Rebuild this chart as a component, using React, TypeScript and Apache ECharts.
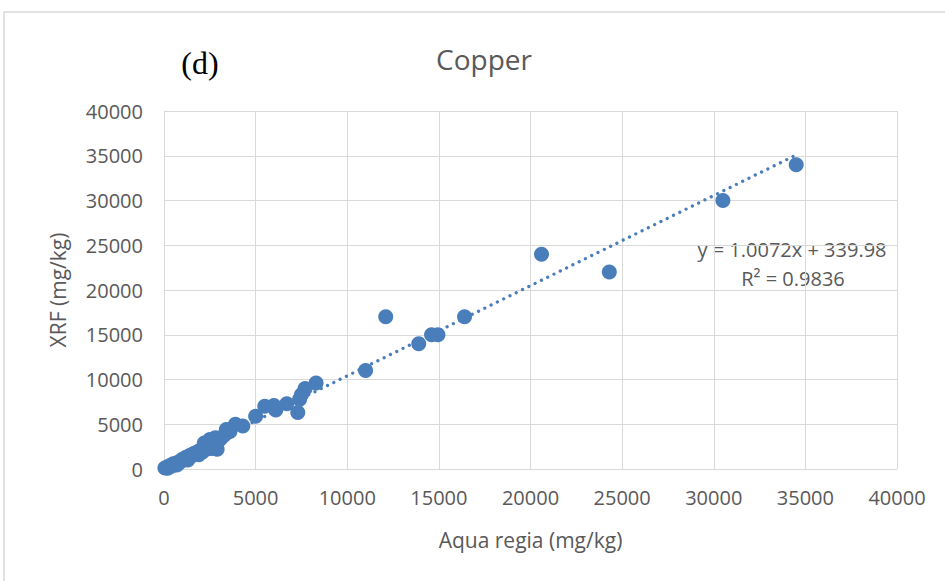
import React, { useEffect, useRef } from "react";
import * as echarts from "echarts";

// Data (Aqua regia mg/kg, XRF mg/kg)
const aquaRegia: number[] = [
  50, 150, 200, 300, 400, 500, 600, 700, 800, 900, 1000, 1100, 1200, 1300, 1400, 1500,
  1600, 1700, 1800, 1900, 2000, 2100, 2200, 2300, 2400, 2500, 2600, 2700, 2800, 2900,
  3000, 3100, 3300, 3400, 3600, 3900, 4300, 5000, 5500, 6000, 6100, 6700, 7300, 7400,
  7500, 7700, 8300, 11000, 12100, 13900, 14600, 14950, 16400, 20600, 24300, 30500, 34500,
  1900, 2200, 1300, 2600, 700,
];
const xrf: number[] = [
  100, 200, 80, 350, 300, 600, 500, 700, 650, 900, 1100, 1000, 1300, 1200, 1500, 1450,
  1700, 1800, 1700, 2000, 2100, 1900, 2400, 2200, 2600, 3300, 2800, 3000, 3500, 2200,
  3200, 3400, 3800, 4400, 4200, 5000, 4800, 5900, 7000, 7100, 6600, 7300, 6300, 7800,
  8300, 9000, 9600, 11000, 17000, 14000, 15000, 15000, 17000, 24000, 22000, 30000, 34000,
  1600, 2900, 1000, 2300, 450,
];

// Linear trendline shown in the reference
const trendSlope = 1.0072;
const trendIntercept = 339.98;
const trendRange: number[] = [0, 34400];

const xTicks = { min: 0, max: 40000, interval: 5000 };
const yTicks = { min: 0, max: 40000, interval: 5000 };

const TEXT = "#595959";
const GRID = "#d9d9d9";
const BLUE = "#4a7ebb";
const FONT = "'Open Sans', 'Liberation Sans', sans-serif";

export default function App() {
  const ref = useRef<HTMLDivElement>(null);

  useEffect(() => {
    document.body.style.margin = "0";
    if (!ref.current) return;
    const chart = echarts.init(ref.current, undefined, { renderer: "svg" });
    const points = aquaRegia.map((x, i) => [x, xrf[i]]);
    const trend = trendRange.map((x) => [x, trendSlope * x + trendIntercept]);
    const plain = (v: number) => String(v);

    chart.setOption({
      animation: false,
      backgroundColor: "#ffffff",
      grid: { left: 164, right: 48, top: 111, bottom: 112, containLabel: false },
      xAxis: {
        type: "value",
        min: xTicks.min,
        max: xTicks.max,
        interval: xTicks.interval,
        name: "Aqua regia (mg/kg)",
        nameLocation: "middle",
        nameGap: 60,
        nameTextStyle: { color: TEXT, fontSize: 21, fontFamily: FONT },
        axisLine: { show: true, lineStyle: { color: GRID, width: 1 } },
        axisTick: { show: false },
        axisLabel: { color: TEXT, fontSize: 20, fontFamily: FONT, margin: 18, formatter: plain },
        splitLine: { show: true, lineStyle: { color: GRID, width: 1 } },
      },
      yAxis: {
        type: "value",
        min: yTicks.min,
        max: yTicks.max,
        interval: yTicks.interval,
        name: "XRF (mg/kg)",
        nameLocation: "middle",
        nameGap: 96,
        nameTextStyle: { color: TEXT, fontSize: 21, fontFamily: FONT },
        axisLine: { show: true, lineStyle: { color: GRID, width: 1 } },
        axisTick: { show: false },
        axisLabel: { color: TEXT, fontSize: 20, fontFamily: FONT, margin: 21, formatter: plain },
        splitLine: { show: true, lineStyle: { color: GRID, width: 1 } },
      },
      series: [
        {
          type: "scatter",
          data: points,
          symbol: "circle",
          symbolSize: 15,
          itemStyle: { color: BLUE, opacity: 1 },
          z: 2,
        },
        {
          type: "line",
          data: trend,
          symbol: "none",
          lineStyle: { color: BLUE, width: 3.3, type: [0.01, 7], cap: "round" },
          z: 3,
        },
      ],
      graphic: [
        {
          type: "rect",
          shape: { x: 4, y: 12, width: 1100, height: 1000 },
          style: { fill: "none", stroke: GRID, lineWidth: 1.5 },
          silent: true,
        },
        {
          type: "text",
          x: 484,
          y: 59,
          style: {
            text: "Copper",
            fill: TEXT,
            fontSize: 28,
            fontFamily: FONT,
            textAlign: "center",
            textVerticalAlign: "middle",
          },
        },
        {
          type: "text",
          x: 200,
          y: 63,
          style: {
            text: "(d)",
            fill: "#000000",
            fontSize: 32,
            fontFamily: "'Liberation Serif', serif",
            textAlign: "center",
            textVerticalAlign: "middle",
          },
        },
        {
          type: "text",
          x: 792,
          y: 249,
          style: {
            text: `y = ${trendSlope}x + ${trendIntercept}`,
            fill: TEXT,
            fontSize: 20,
            fontFamily: FONT,
            textAlign: "center",
            textVerticalAlign: "middle",
          },
        },
        {
          type: "text",
          x: 793,
          y: 278,
          style: {
            text: "R² = 0.9836",
            fill: TEXT,
            fontSize: 20,
            fontFamily: FONT,
            textAlign: "center",
            textVerticalAlign: "middle",
          },
        },
      ],
    });

    return () => chart.dispose();
  }, []);

  return <div ref={ref} style={{ width: 945, height: 581 }} />;
}
